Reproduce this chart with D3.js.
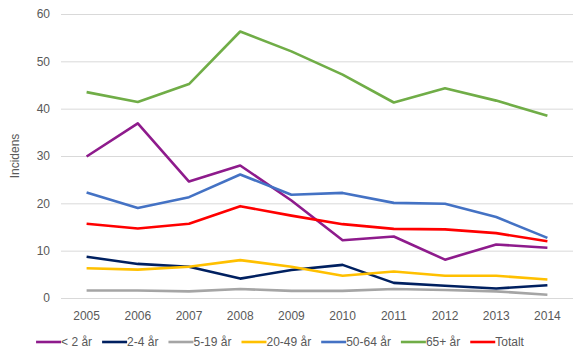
<!DOCTYPE html>
<html>
<head>
<meta charset="utf-8">
<script src="https://cdn.jsdelivr.net/npm/d3@7"></script>
<style>
  body { margin: 0; background: #fff; }
  text { font-family: "Liberation Sans", Arial, sans-serif; fill: #595959; }
</style>
</head>
<body>
<div id="chart"></div>
<script>
  // chart data
  var years = ["2005", "2006", "2007", "2008", "2009", "2010", "2011", "2012", "2013", "2014"];
  var seriesNames = ["< 2 år", "2-4 år", "5-19 år", "20-49 år", "50-64 år", "65+ år", "Totalt"];
  var under2   = [29.9, 36.9, 24.6, 28.0, 20.6, 12.2, 13.0, 8.1, 11.3, 10.6];
  var age2to4  = [8.7, 7.2, 6.6, 4.1, 5.9, 7.0, 3.2, 2.6, 2.0, 2.7];
  var age5to19 = [1.6, 1.6, 1.4, 1.9, 1.5, 1.5, 1.9, 1.7, 1.4, 0.7];
  var age20to49 = [6.3, 6.0, 6.6, 8.0, 6.6, 4.7, 5.6, 4.7, 4.7, 3.9];
  var age50to64 = [22.3, 19.0, 21.3, 26.1, 21.8, 22.2, 20.1, 19.9, 17.1, 12.7];
  var age65plus = [43.5, 41.4, 45.2, 56.3, 52.1, 47.2, 41.3, 44.3, 41.7, 38.5];
  var totalt    = [15.7, 14.7, 15.7, 19.4, 17.4, 15.6, 14.6, 14.5, 13.7, 12.0];
  var yTicks = [0, 10, 20, 30, 40, 50, 60];

  var colors = ["#8e1b8c", "#002060", "#a5a5a5", "#ffc000", "#4472c4", "#70ad47", "#ff0000"];
  var allSeries = [under2, age2to4, age5to19, age20to49, age50to64, age65plus, totalt];

  var W = 588, H = 361;
  var margin = { left: 61, right: 15, top: 14, bottom: 63 };

  var svg = d3.select("#chart").append("svg").attr("width", W).attr("height", H);

  var x = d3.scaleBand().domain(years).range([margin.left, W - margin.right]);
  var y = d3.scaleLinear().domain([0, 60]).range([H - margin.bottom, margin.top]);

  // gridlines
  svg.append("g").selectAll("line").data(yTicks).enter().append("line")
    .attr("x1", margin.left).attr("x2", W - margin.right)
    .attr("y1", function(d) { return y(d) + 0.5; })
    .attr("y2", function(d) { return y(d) + 0.5; })
    .attr("stroke", "#d9d9d9").attr("stroke-width", 1);

  // y axis labels
  var yAxis = d3.axisLeft(y).tickValues(yTicks).tickSize(0).tickPadding(11);
  var gy = svg.append("g").attr("transform", "translate(" + margin.left + ",0)").call(yAxis);
  gy.select(".domain").remove();
  gy.selectAll("text").attr("font-size", 12).style("fill", "#595959")
    .style("font-family", "\"Liberation Sans\", Arial, sans-serif");

  // x axis labels
  var xAxis = d3.axisBottom(x).tickSize(0).tickPadding(13);
  var gx = svg.append("g").attr("transform", "translate(0," + (H - margin.bottom) + ")").call(xAxis);
  gx.select(".domain").remove();
  gx.selectAll("text").attr("font-size", 12).style("fill", "#595959")
    .style("font-family", "\"Liberation Sans\", Arial, sans-serif");

  // y axis title
  svg.append("text")
    .attr("transform", "translate(19," + ((y(0) + y(60)) / 2) + ") rotate(-90)")
    .attr("text-anchor", "middle").attr("font-size", 12).text("Incidens");

  // lines
  var line = d3.line()
    .x(function(d, i) { return x(years[i]) + x.bandwidth() / 2; })
    .y(function(d) { return y(d); });

  svg.append("g").selectAll("path").data(allSeries).enter().append("path")
    .attr("d", line)
    .attr("fill", "none")
    .attr("stroke", function(d, i) { return colors[i]; })
    .attr("stroke-width", 2.6)
    .attr("stroke-linejoin", "round");

  // legend
  var legend = svg.append("g");
  var items = legend.selectAll("g").data(seriesNames).enter().append("g");
  items.append("line")
    .attr("x1", 0).attr("x2", 25).attr("y1", 0).attr("y2", 0)
    .attr("stroke", function(d, i) { return colors[i]; })
    .attr("stroke-width", 2.6);
  items.append("text")
    .attr("x", 25).attr("dy", "0.35em").attr("font-size", 12)
    .text(function(d) { return d; });

  var pos = 0, gap = 10;
  items.each(function() {
    var w = 25 + d3.select(this).select("text").node().getComputedTextLength();
    d3.select(this).attr("transform", "translate(" + pos + ",0)");
    pos += w + gap;
  });
  var total = pos - gap;
  legend.attr("transform", "translate(" + (280 - total / 2) + ",342)");
</script>
</body>
</html>
